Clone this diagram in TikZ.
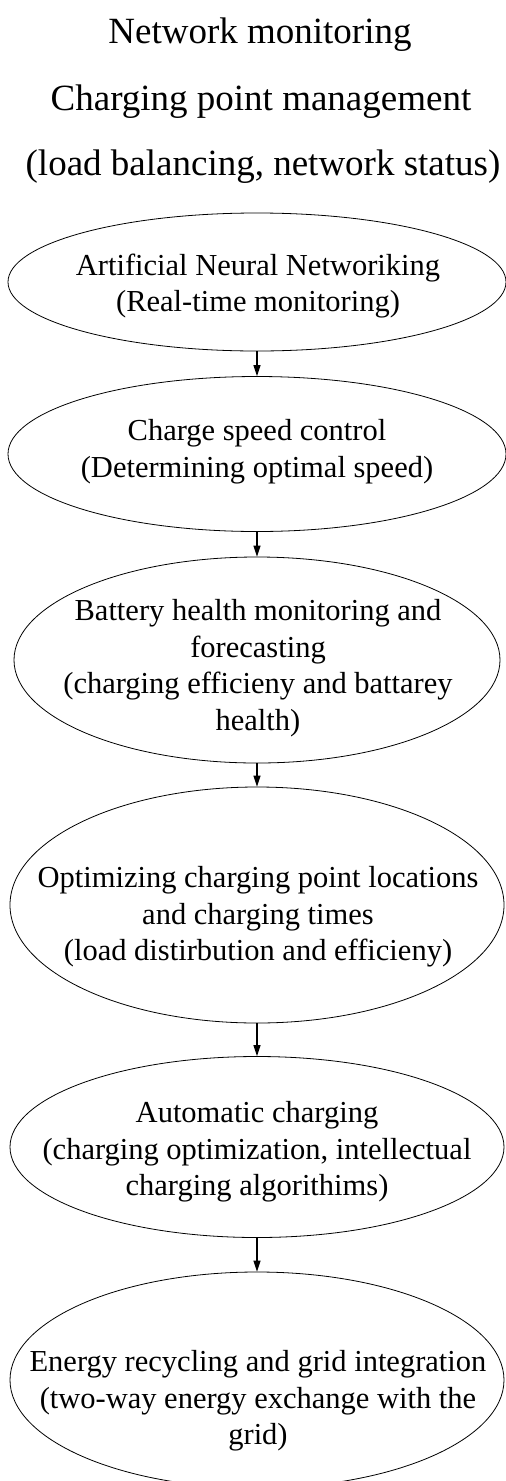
\documentclass[tikz,border=0pt]{standalone}
\usepackage{fontspec}
\setmainfont{Liberation Serif}
\usetikzlibrary{arrows.meta,shapes.geometric}

\tikzset{
  oval/.style={draw, ellipse, line width=0.8pt, inner sep=0pt},
  txt/.style={align=center, inner sep=0pt, font=\fontsize{30.5}{36.6}\selectfont},
  head/.style={anchor=base, inner sep=0pt, font=\fontsize{37}{44}\selectfont},
  flow/.style={-{Triangle[length=11pt,width=7pt]}, line width=1.2pt}
}

\begin{document}
\begin{tikzpicture}[x=1pt,y=-1pt]
  \useasboundingbox (0,0) rectangle (506,1481);
  % headings
  \node[head] (h1) at (260,43) {Network monitoring};
  \node[head] (h2) at (261,110) {Charging point management};
  \node[head] (h3) at (263,175) {(load balancing, network status)};
  % ovals
  \node[oval, minimum width=498pt, minimum height=138pt] (e1) at (257,282) {};
  \node[txt] (t1) at (258,286) {Artificial Neural Networiking\\(Real-time monitoring)};
  \node[oval, minimum width=498pt, minimum height=155pt] (e2) at (257,454) {};
  \node[txt] (t2) at (257,452) {Charge speed control\\(Determining optimal speed)};
  \node[oval, minimum width=486pt, minimum height=206pt] (e3) at (257,660) {};
  \node[txt] (t3) at (258,668) {Battery health monitoring and\\forecasting\\(charging efficieny and battarey\\health)};
  \node[oval, minimum width=494pt, minimum height=236pt] (e4) at (257,905) {};
  \node[txt] (t4) at (258,917) {Optimizing charging point locations\\and charging times\\(load distirbution and efficieny)};
  \node[oval, minimum width=494pt, minimum height=181pt] (e5) at (257,1147) {};
  \node[txt] (t5) at (257,1152) {Automatic charging\\(charging optimization, intellectual\\charging algorithims)};
  \node[oval, minimum width=494pt, minimum height=216pt] (e6) at (257,1380) {};
  \node[txt] (t6) at (258,1401) {Energy recycling and grid integration\\(two-way energy exchange with the\\grid)};
  % arrows
  \draw[flow] (e1.south) -- (e2.north);
  \draw[flow] (e2.south) -- (e3.north);
  \draw[flow] (e3.south) -- (e4.north);
  \draw[flow] (e4.south) -- (e5.north);
  \draw[flow] (e5.south) -- (e6.north);
\end{tikzpicture}
\end{document}
